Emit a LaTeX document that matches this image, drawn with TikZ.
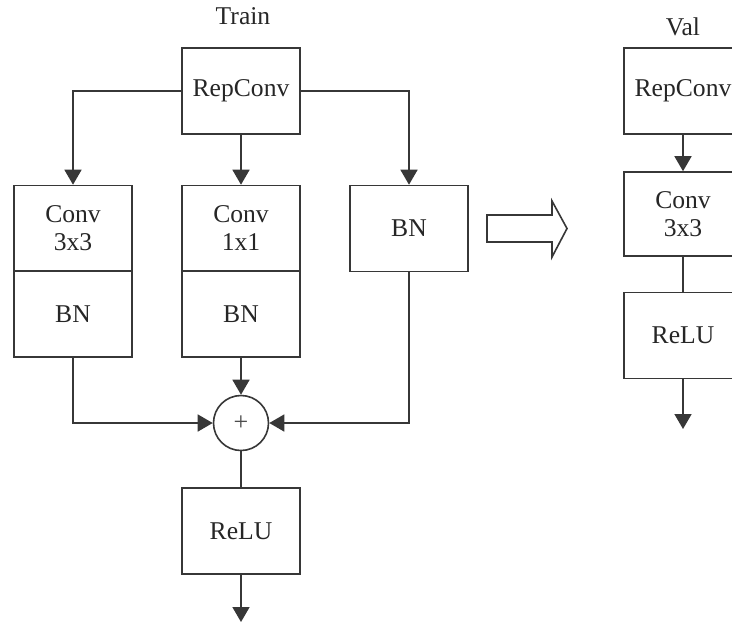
\documentclass[tikz,border=0pt]{standalone}
\usepackage{fontspec}
\setmainfont{Liberation Serif}
\usetikzlibrary{arrows.meta,positioning}
\definecolor{linegray}{RGB}{55,55,55}
\tikzset{
  block/.style={draw=linegray,line width=0.8pt,fill=white,minimum width=59pt,minimum height=43pt,inner sep=0pt,align=center,font=\fontsize{12.8}{14}\selectfont},
  link/.style={draw=linegray,line width=0.8pt},
  flow/.style={link,-{Triangle[width=8.5pt,length=7.5pt]}},
}
\begin{document}
\begin{tikzpicture}[x=0.5pt,y=-0.5pt,text=black!85]
	\useasboundingbox (0,0) rectangle (732,623);
	\clip (0,0) rectangle (732,623);
	% train branch
	\node[font=\fontsize{12.8}{14}\selectfont] (train) at (243,16) {Train};
	\node[block] (repconv) at (241,91) {RepConv};
	\node[block] (conva) at (73,228.5) {Conv\\3x3};
	\node[block] (bna) at (73,314) {BN};
	\node[block] (convb) at (241,228.5) {Conv\\1x1};
	\node[block] (bnb) at (241,314) {BN};
	\node[block] (bnc) at (409,228.5) {BN};
	\node[circle,draw=linegray,line width=0.8pt,minimum size=27.5pt,inner sep=0pt,font=\fontsize{13}{14}\selectfont,text=black!70] (add) at (241,423) {+};
	\node[block] (relu) at (241,531) {ReLU};
	\coordinate (out) at (241,622);
	\draw[flow] (repconv.west) -| (conva.north);
	\draw[flow] (repconv) -- (convb);
	\draw[flow] (repconv.east) -| (bnc.north);
	\draw[flow] (bna.south) |- (add.west);
	\draw[flow] (bnb) -- (add);
	\draw[flow] (bnc.south) |- (add.east);
	\draw[link] (add) -- (relu);
	\draw[flow] (relu) -- (out);
	% hollow arrow
	\draw[link,fill=white] (487,215) -- (552,215) -- (552,201) -- (567,228.5) -- (552,257) -- (552,242) -- (487,242) -- cycle;
	% val branch
	\node[font=\fontsize{12.8}{14}\selectfont] (val) at (683,27) {Val};
	\node[block] (vrep) at (683,91) {RepConv};
	\node[block,minimum height=42pt] (vconv) at (683,214) {Conv\\3x3};
	\node[block] (vrelu) at (683,335.5) {ReLU};
	\coordinate (vout) at (683,429);
	\draw[flow] (vrep) -- (vconv);
	\draw[link] (vconv) -- (vrelu);
	\draw[flow] (vrelu) -- (vout);
\end{tikzpicture}
\end{document}
